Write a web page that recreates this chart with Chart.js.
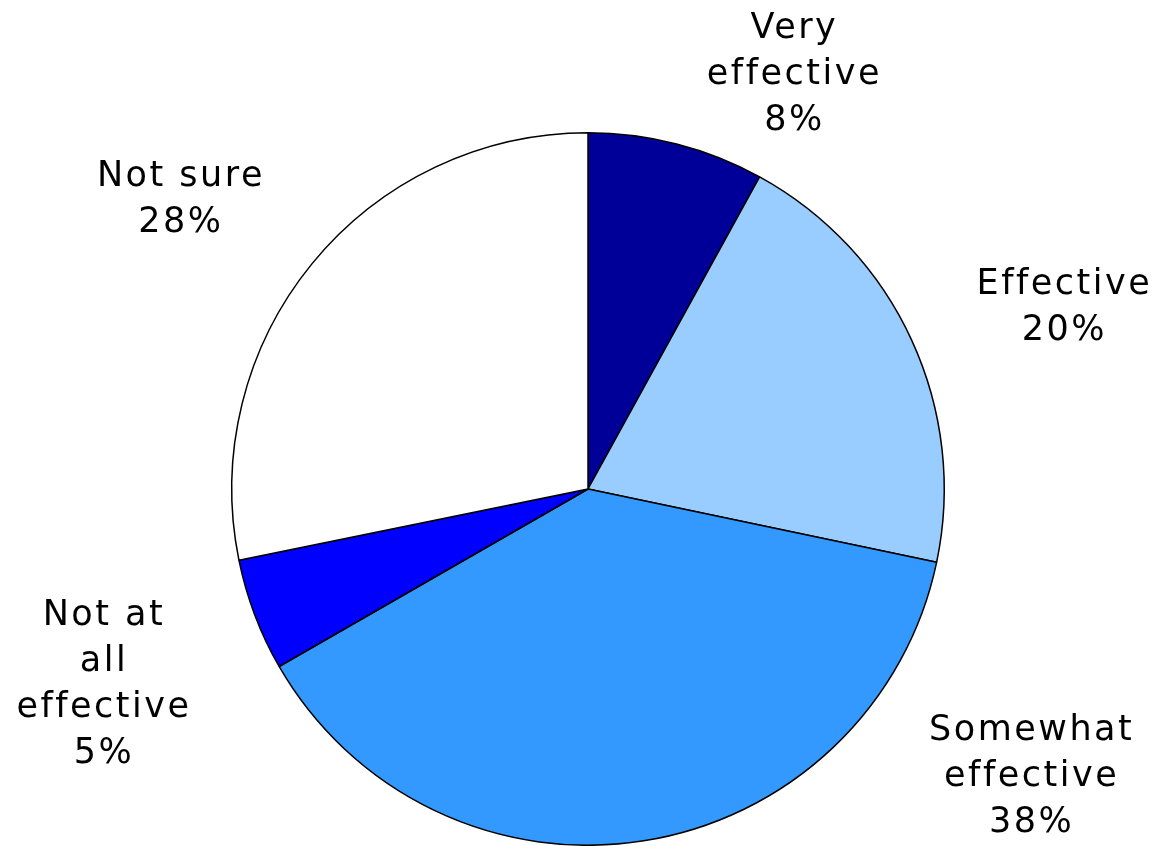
<!DOCTYPE html>
<html>
<head>
<meta charset="utf-8">
<script src="https://cdn.jsdelivr.net/npm/chart.js@4.4.1/dist/chart.umd.min.js"></script>
<style>
  html, body { margin: 0; padding: 0; background: #fff; }
  #wrap { width: 1159px; height: 846px; position: relative; }
</style>
</head>
<body>
<div id="wrap"><canvas id="chart1"></canvas></div>
<script>
// data (clockwise from 12 o'clock)
var categories = [['Very', 'effective'], ['Effective'], ['Somewhat', 'effective'], ['Not at', 'all', 'effective'], ['Not sure']];
var shares = [8, 20.3, 38.4, 5.1, 28.2];
var shownPct = ['8%', '20%', '38%', '5%', '28%'];

var sliceColors = ['#000099', '#99CCFF', '#3399FF', '#0000FF', '#FFFFFF'];

// where each label block sits, as multiples of the pie radius from its centre
var labelOffsets = [[0.576, -1.166], [1.334, -0.512], [1.242, 0.806], [-1.362, 0.548], [-1.146, -0.815]];

var outsideLabels = {
  id: 'outsideLabels',
  afterDraw: function(chart) {
    var ctx = chart.ctx;
    var arcs = chart.getDatasetMeta(0).data;
    var lineH = 46;
    ctx.save();
    ctx.font = '35px "DejaVu Sans"';
    ctx.fillStyle = '#000';
    ctx.textAlign = 'center';
    ctx.textBaseline = 'middle';
    if ('letterSpacing' in ctx) ctx.letterSpacing = '2.5px';
    arcs.forEach(function(arc, i) {
      var r = arc.outerRadius;
      var cx = arc.x + labelOffsets[i][0] * r;
      var cy = arc.y + labelOffsets[i][1] * r;
      var lines = categories[i].concat([shownPct[i]]);
      var top = cy - (lines.length - 1) * lineH / 2;
      lines.forEach(function(t, j) {
        ctx.fillText(t, cx + 1.2, top + j * lineH + 1);
      });
    });
    ctx.restore();
  }
};

var ctx = document.getElementById('chart1').getContext('2d');

var myChart = new Chart(ctx, {
  type: 'pie',
  data: {
    labels: categories.map(function(c) { return c.join(' '); }),
    datasets: [{
      data: shares,
      backgroundColor: sliceColors,
      borderColor: '#000',
      borderWidth: 1.5,
      borderAlign: 'center'
    }]
  },
  options: {
    responsive: true,
    maintainAspectRatio: false,
    animation: false,
    layout: {
      padding: { top: 132, bottom: 0, left: 17, right: 0 }
    },
    plugins: {
      legend: { display: false },
      tooltip: { enabled: false }
    }
  },
  plugins: [outsideLabels]
});
</script>
</body>
</html>
